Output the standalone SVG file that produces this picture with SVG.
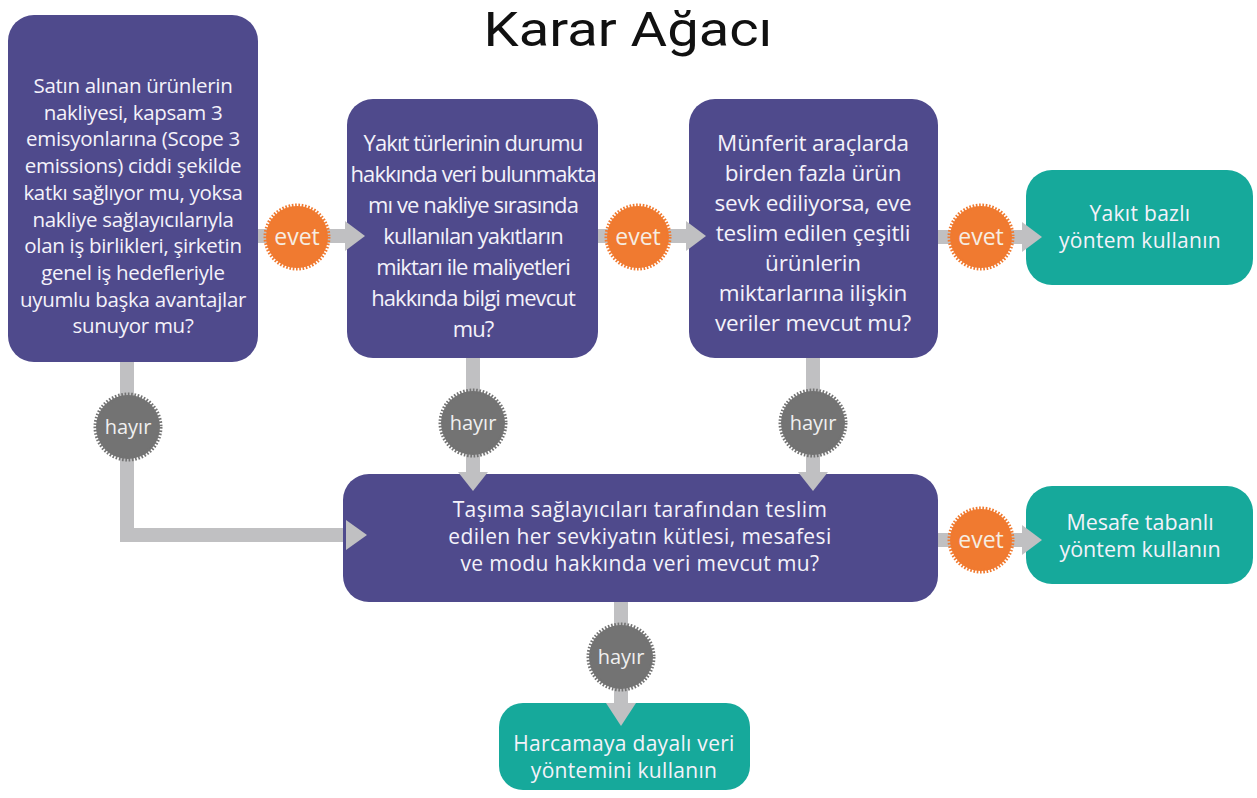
<svg xmlns="http://www.w3.org/2000/svg" width="1257" height="798" viewBox="0 0 1257 798">
<style>
.q{fill:#4f4a8c}
.g{fill:#16a99b}
.t{font-family:"Open Sans","Noto Sans",sans-serif;fill:#f4f2fa;text-anchor:middle}
.c{stroke:#c0c0c2;stroke-width:14;fill:none}
.ah{fill:#c0c0c2}
.ev{fill:#f07a30;stroke:#f07a30;stroke-width:5;stroke-dasharray:1.6 1.6}
.hy{fill:#737373;stroke:#737373;stroke-width:5;stroke-dasharray:1.6 1.6}
.bl{font-family:"Open Sans","Noto Sans",sans-serif;font-size:23px;fill:#f6ede2;text-anchor:middle}
.bh{font-family:"Open Sans","Noto Sans",sans-serif;font-size:20px;fill:#f0f0f0;text-anchor:middle}
</style>
<rect width="1257" height="798" fill="#ffffff"/>
<text x="628" y="46" font-family="Roboto,sans-serif" font-size="49" fill="#111111" text-anchor="middle" textLength="289" lengthAdjust="spacingAndGlyphs">Karar Ağacı</text>

<g id="connectors">
<line class="c" x1="258" y1="236" x2="350" y2="236"/>
<line class="c" x1="598" y1="236" x2="690" y2="236"/>
<line class="c" x1="938" y1="237" x2="1027" y2="237"/>
<polyline class="c" points="127,362 127,535 350,535"/>
<line class="c" x1="473" y1="358" x2="473" y2="475"/>
<line class="c" x1="813" y1="358" x2="813" y2="475"/>
<line class="c" x1="938" y1="540" x2="1027" y2="540"/>
<line class="c" x1="621" y1="602" x2="621" y2="705"/>
</g>

<g id="node-q1">
<rect class="q" x="8" y="15" width="250" height="347" rx="26"/>
<text class="t" font-size="20.5" letter-spacing="-0.3"><tspan x="133" y="93">Satın alınan ürünlerin</tspan><tspan x="133" y="119.7">nakliyesi, kapsam 3</tspan><tspan x="133" y="146.4">emisyonlarına (Scope 3</tspan><tspan x="133" y="173.1">emissions) ciddi şekilde</tspan><tspan x="133" y="199.8">katkı sağlıyor mu, yoksa</tspan><tspan x="133" y="226.5">nakliye sağlayıcılarıyla</tspan><tspan x="133" y="253.2">olan iş birlikleri, şirketin</tspan><tspan x="133" y="279.9">genel iş hedefleriyle</tspan><tspan x="133" y="306.6">uyumlu başka avantajlar</tspan><tspan x="133" y="333.3">sunuyor mu?</tspan></text>
</g>

<g id="node-q2">
<rect class="q" x="347" y="99" width="251" height="259" rx="26"/>
<text class="t" font-size="22" letter-spacing="-0.9"><tspan x="473" y="151">Yakıt türlerinin durumu</tspan><tspan x="473" y="182">hakkında veri bulunmakta</tspan><tspan x="473" y="213">mı ve nakliye sırasında</tspan><tspan x="473" y="244">kullanılan yakıtların</tspan><tspan x="473" y="275">miktarı ile maliyetleri</tspan><tspan x="473" y="306">hakkında bilgi mevcut</tspan><tspan x="473" y="337">mu?</tspan></text>
</g>

<g id="node-q3">
<rect class="q" x="689" y="99" width="249" height="259" rx="26"/>
<text class="t" font-size="22.5" letter-spacing="-0.2"><tspan x="813" y="151">Münferit araçlarda</tspan><tspan x="813" y="181">birden fazla ürün</tspan><tspan x="813" y="211">sevk ediliyorsa, eve</tspan><tspan x="813" y="241">teslim edilen çeşitli</tspan><tspan x="813" y="271">ürünlerin</tspan><tspan x="813" y="301">miktarlarına ilişkin</tspan><tspan x="813" y="331">veriler mevcut mu?</tspan></text>
</g>

<g id="node-q4">
<rect class="q" x="343" y="474" width="595" height="128" rx="26"/>
<text class="t" font-size="21" letter-spacing="0.4"><tspan x="640" y="517">Taşıma sağlayıcıları tarafından teslim</tspan><tspan x="640" y="544">edilen her sevkiyatın kütlesi, mesafesi</tspan><tspan x="640" y="571">ve modu hakkında veri mevcut mu?</tspan></text>
</g>

<g id="node-fuel">
<rect class="g" x="1026" y="170" width="227" height="115" rx="26"/>
<text class="t" font-size="21" letter-spacing="0.3"><tspan x="1140" y="221">Yakıt bazlı</tspan><tspan x="1140" y="248">yöntem kullanın</tspan></text>
</g>

<g id="node-distance">
<rect class="g" x="1026" y="486" width="227" height="98" rx="26"/>
<text class="t" font-size="21.5"><tspan x="1140" y="530">Mesafe tabanlı</tspan><tspan x="1140" y="557">yöntem kullanın</tspan></text>
</g>

<g id="node-spend">
<rect class="g" x="499" y="703" width="251" height="87" rx="24"/>
<text class="t" font-size="21" letter-spacing="0.3"><tspan x="624" y="751">Harcamaya dayalı veri</tspan><tspan x="624" y="778">yöntemini kullanın</tspan></text>
</g>

<g id="arrowheads">
<polygon class="ah" points="345,221 365,236 345,251"/>
<polygon class="ah" points="686,221 706,236 686,251"/>
<polygon class="ah" points="1022,222 1042,237 1022,252"/>
<polygon class="ah" points="346,520 367,535 346,550"/>
<polygon class="ah" points="458,472 473,491 488,472"/>
<polygon class="ah" points="798,472 813,491 828,472"/>
<polygon class="ah" points="1022,525 1042,540 1022,555"/>
<polygon class="ah" points="606,703 621,726 636,703"/>
</g>

<g id="badges">
<circle class="ev" cx="297" cy="237" r="31"/>
<text class="bl" x="297" y="245">evet</text>
<circle class="ev" cx="638" cy="237" r="31"/>
<text class="bl" x="638" y="245">evet</text>
<circle class="ev" cx="981" cy="237" r="31"/>
<text class="bl" x="981" y="245">evet</text>
<circle class="ev" cx="981" cy="540" r="31"/>
<text class="bl" x="981" y="548">evet</text>
<circle class="hy" cx="128" cy="427" r="32"/>
<text class="bh" x="128" y="434">hayır</text>
<circle class="hy" cx="473" cy="423" r="32"/>
<text class="bh" x="473" y="430">hayır</text>
<circle class="hy" cx="813" cy="423" r="32"/>
<text class="bh" x="813" y="430">hayır</text>
<circle class="hy" cx="621" cy="657" r="32"/>
<text class="bh" x="621" y="664">hayır</text>
</g>
</svg>
